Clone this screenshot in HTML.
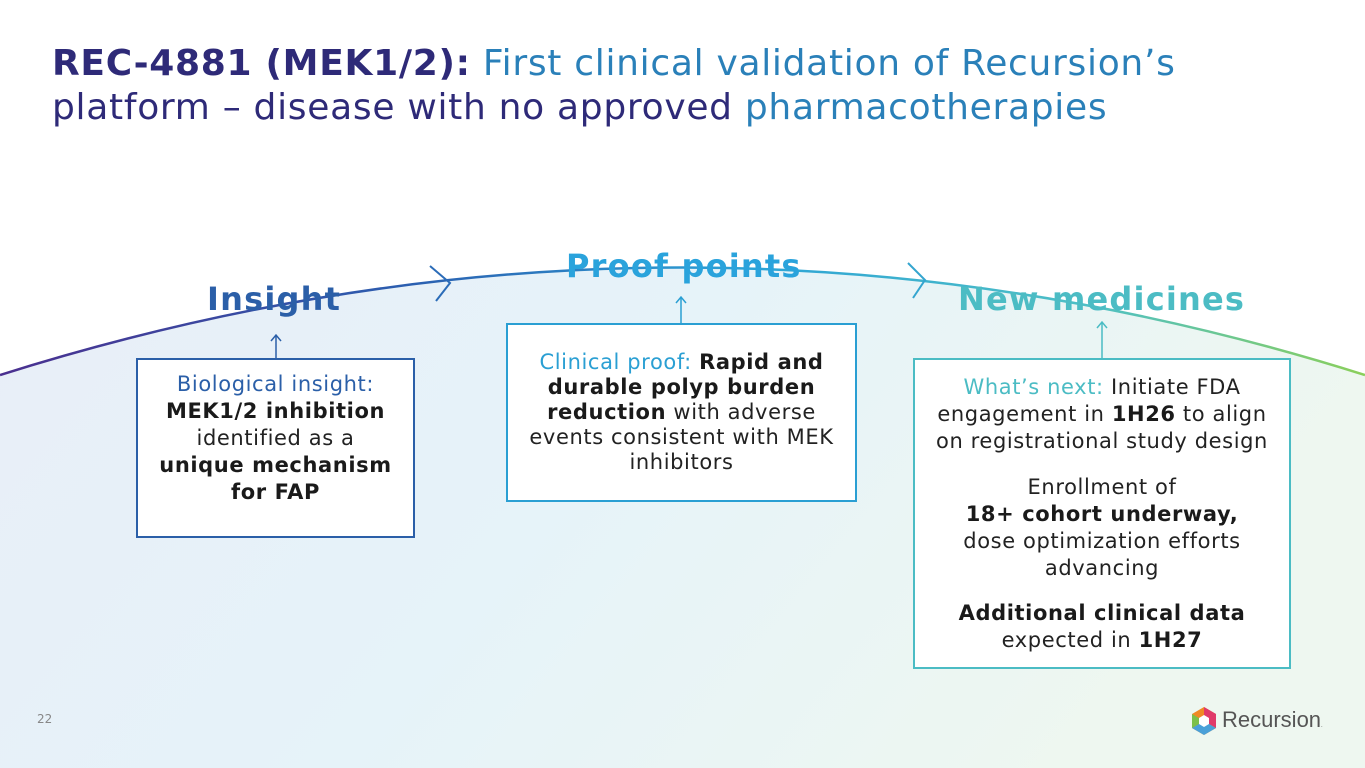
<!DOCTYPE html>
<html><head><meta charset="utf-8"><style>
body{margin:0;width:1365px;height:768px;position:relative;overflow:hidden;background:#fff;font-family:"DejaVu Sans","Liberation Sans",sans-serif}
.t{position:absolute;left:52px;top:42px;font-size:36px;line-height:44px;color:#2a80b9;letter-spacing:0.7px;white-space:nowrap}
.t b{color:#2e2a78}
.h{position:absolute;font-weight:bold;font-size:32px;letter-spacing:1.2px;white-space:nowrap}
.box{position:absolute;background:#fff;border:2px solid;box-sizing:border-box;text-align:center;font-size:21px;line-height:27px;letter-spacing:0.6px;color:#222;white-space:nowrap}
.box b{color:#1a1a1a}
</style></head><body>
<svg width="1365" height="768" style="position:absolute;left:0;top:0">
<defs>
<linearGradient id="bg" x1="0" y1="0" x2="1" y2="0.3"><stop offset="0" stop-color="#e8eef8"/><stop offset="0.5" stop-color="#e6f3f9"/><stop offset="1" stop-color="#eef7f0"/></linearGradient>
<linearGradient id="arc" x1="0" y1="0" x2="1" y2="0"><stop offset="0" stop-color="#4a2f8f"/><stop offset="0.3" stop-color="#2b5fb0"/><stop offset="0.55" stop-color="#2ca3d6"/><stop offset="0.8" stop-color="#4fc0c5"/><stop offset="1" stop-color="#8bcf5a"/></linearGradient>
</defs>
<path d="M0 375 Q682 160 1365 375 L1365 768 L0 768Z" fill="url(#bg)"/>
<path d="M0 375 Q682 160 1365 375" fill="none" stroke="url(#arc)" stroke-width="2.5"/>
<path d="M430 266 L450 283 L436 301" fill="none" stroke="#2b6cb8" stroke-width="2"/>
<path d="M908 263 L925 280 L913 298" fill="none" stroke="#34a5cf" stroke-width="2"/>
<g stroke-width="1.5" fill="none">
<path d="M276 358V335M271 341L276 335L281 341" stroke="#2b5fa8"/>
<path d="M681 323V297M676 303L681 297L686 303" stroke="#2a9fd3"/>
<path d="M1102 358V322M1097 328L1102 322L1107 328" stroke="#4bbcc4"/>
</g>
</svg>
<div class="t"><b>REC-4881 (MEK1/2):</b> First clinical validation of Recursion’s<br><span style="color:#2e2a78">platform – disease with no approved </span>pharmacotherapies</div>
<div class="h" style="left:207px;top:280px;color:#2b5fa8">Insight</div>
<div class="h" style="left:566px;top:247px;color:#2aa3dc">Proof points</div>
<div class="h" style="left:958px;top:280px;color:#4cbcc4">New medicines</div>
<div class="box" style="left:136px;top:358px;width:279px;height:180px;border-color:#2b5fa8;padding-top:11px;line-height:27px"><span style="color:#2b5fa8">Biological insight:</span><br><b>MEK1/2 inhibition</b><br>identified as a<br><b>unique mechanism<br>for FAP</b></div>
<div class="box" style="left:506px;top:323px;width:351px;height:179px;border-color:#2a9fd3;padding-top:25px;line-height:25px"><span style="color:#2a9fd3">Clinical proof:</span> <b>Rapid and<br>durable polyp burden<br>reduction</b> with adverse<br>events consistent with MEK<br>inhibitors</div>
<div class="box" style="left:913px;top:358px;width:378px;height:311px;border-color:#4bbcc4;padding-top:14px"><span style="color:#4bbcc4">What’s next:</span> Initiate FDA<br>engagement in <b>1H26</b> to align<br>on registrational study design<div style="height:19px"></div>Enrollment of<br><b>18+ cohort underway,</b><br>dose optimization efforts<br>advancing<div style="height:18px"></div><b>Additional clinical data</b><br>expected in <b>1H27</b></div>
<div style="position:absolute;left:37px;top:712px;font-size:12px;color:#888">22</div>
<svg width="28" height="30" style="position:absolute;left:1190px;top:706px" viewBox="0 0 28 30">
<polygon points="14,1 26,8 26,22 14,29 2,22 2,8" fill="#f08a24"/>
<polygon points="14,1 26,8 26,22 14,15" fill="#e03a6a"/>
<polygon points="2,22 14,29 26,22 14,15" fill="#4aa0d8"/>
<polygon points="2,8 2,22 14,15" fill="#7cc04a"/>
<polygon points="14,9 19,12 19,18 14,21 9,18 9,12" fill="#fff"/>
</svg>
<div style="position:absolute;left:1222px;top:707px;font-size:22px;color:#555;font-family:'Liberation Sans',sans-serif">Recursion<span style="font-size:6px">.</span></div>
</body></html>
